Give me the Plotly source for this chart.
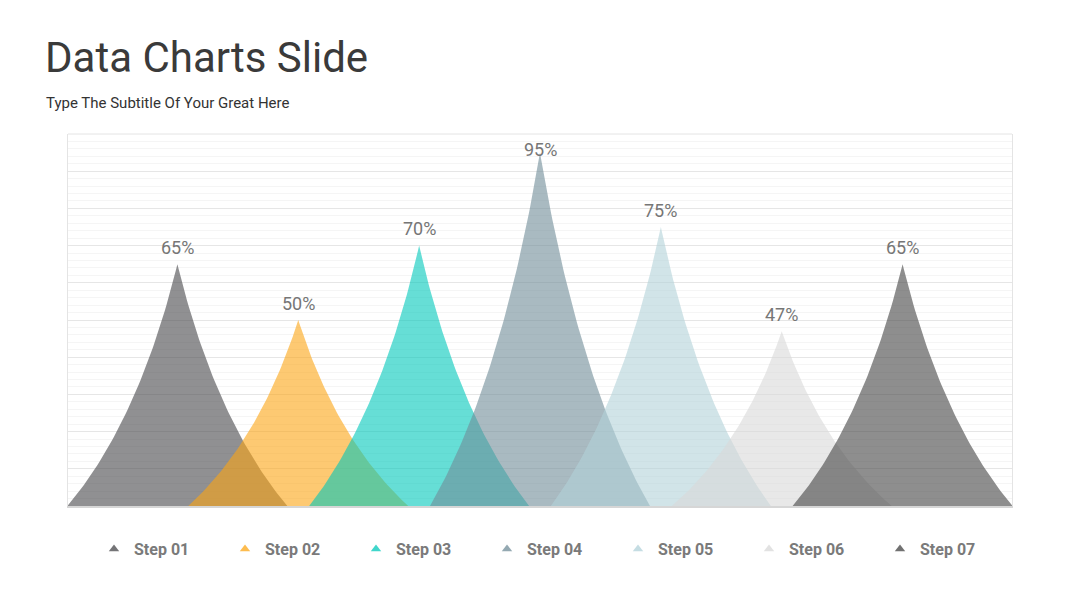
import numpy as np
import plotly.graph_objects as go

# ---- data ----
categories = ["Step 01", "Step 02", "Step 03", "Step 04", "Step 05", "Step 06", "Step 07"]
values = [65, 50, 70, 95, 75, 47, 65]
value_labels = ["65%", "50%", "70%", "95%", "75%", "47%", "65%"]

# ---- style ----
base_colors = [(70, 70, 74), (252, 165, 20), (0, 200, 186), (112, 140, 152),
               (178, 210, 217), (216, 216, 216), (66, 66, 66)]
alpha = 0.6
half_width = 0.91         # spike half base width in category units
ctrl = 0.35               # quadratic bezier control point (normalized)
label_offset = 4.5
label_cap = 95.8

# page has an 8px body margin, so the figure is laid out 8px smaller
W, H = 1072, 600

def rgba(c, a):
    return "rgba(%d,%d,%d,%.2f)" % (c[0], c[1], c[2], a)

t = np.linspace(0, 1, 60)
w = (1 - t) ** 2 + 2 * t * (1 - t) * ctrl
h = 2 * t * (1 - t) * ctrl + t ** 2

fig = go.Figure()
for i, (cat, v) in enumerate(zip(categories, values)):
    xs = np.concatenate([i - half_width * w, (i + half_width * w)[::-1]])
    ys = np.concatenate([v * h, (v * h)[::-1]])
    fig.add_trace(go.Scatter(
        x=xs, y=ys, mode="lines", fill="toself",
        fillcolor=rgba(base_colors[i], alpha),
        line=dict(width=0, color=rgba(base_colors[i], 0)),
        showlegend=False, hoverinfo="skip", name=cat))

for i, cat in enumerate(categories):
    fig.add_trace(go.Scatter(
        x=[None], y=[None], mode="markers", name=cat,
        marker=dict(symbol="triangle-up", size=9, color=rgba(base_colors[i], 0.75))))

for i, (v, lab) in enumerate(zip(values, value_labels)):
    fig.add_annotation(x=i, y=min(v + label_offset, label_cap), text=lab,
                       showarrow=False, xanchor="center", yanchor="middle",
                       font=dict(family="Roboto", size=18, color="#767676"))

fig.add_annotation(xref="paper", yref="paper", x=-0.0254, y=1.0833,
                   text="Type The Subtitle Of Your Great Here", showarrow=False,
                   xanchor="left", yanchor="middle",
                   font=dict(family="Roboto", size=15, color="#333333"))

# light top border of the chart frame
fig.add_shape(type="line", xref="paper", yref="paper", x0=0, x1=1, y0=1, y1=1,
              line=dict(color="#e4e4e4", width=1), layer="above")

fig.update_layout(
    width=W, height=H,
    margin=dict(l=60, r=68, t=126, b=102),
    paper_bgcolor="white", plot_bgcolor="white",
    title=dict(text="Data Charts Slide", x=37 / W, xanchor="left",
               xref="container", yref="container", y=1 - 49 / H, yanchor="middle",
               font=dict(family="Roboto", size=42, color="#3a3a3a")),
    xaxis=dict(range=[-0.905, 6.905], showgrid=False, zeroline=False,
               showticklabels=False, showline=True, mirror=False,
               linecolor="#d6d6d6", linewidth=1.5, fixedrange=True),
    yaxis=dict(range=[0, 100], dtick=10, showgrid=True, gridcolor="#e6e6e6",
               gridwidth=1, zeroline=False, showticklabels=False,
               showline=True, mirror=True, linecolor="#e4e4e4", linewidth=1,
               minor=dict(dtick=2, showgrid=True, gridcolor="#f5f5f5", gridwidth=1),
               fixedrange=True),
    legend=dict(orientation="h", xref="container", yref="container",
                x=86 / W, xanchor="left", y=1 - 541 / H, yanchor="middle",
                entrywidth=86, entrywidthmode="pixels",
                font=dict(family="Roboto", size=16, color="#7a7a7a", weight="bold"),
                bgcolor="rgba(0,0,0,0)"),
    showlegend=True,
)

fig.write_html("out.html")
